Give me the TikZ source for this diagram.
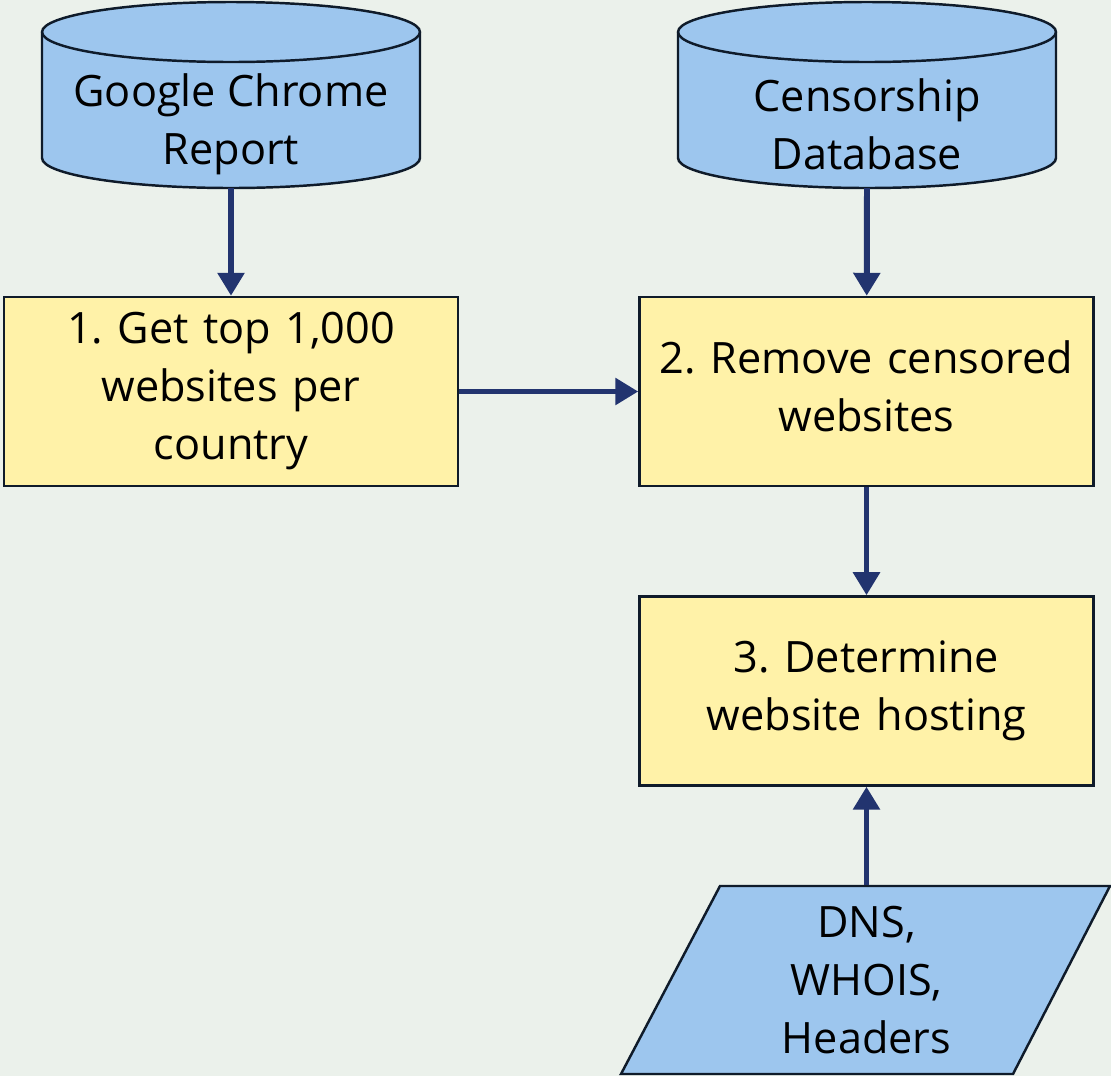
\documentclass[tikz,border=0pt]{standalone}
\usepackage{fontspec}
\setmainfont{Open Sans}
\usetikzlibrary{arrows.meta,positioning}
\definecolor{bgcol}{HTML}{EBF1EB}
\definecolor{dbblue}{HTML}{9DC6EE}
\definecolor{stepyellow}{HTML}{FFF2A8}
\definecolor{arrnavy}{HTML}{22346F}
\definecolor{edgecol}{HTML}{0F1B2A}
\frenchspacing
\begin{document}
\begin{tikzpicture}[font=\fontsize{12.3}{16.5}\selectfont,
		stepbox/.style={rectangle,draw=edgecol,fill=stepyellow,line width=0.7pt,
			inner xsep=0.1cm,inner ysep=0.05cm,
			minimum width=4.54cm,minimum height=1.89cm,align=center,text width=4.34cm},
		txt/.style={align=center,inner sep=0pt},
		outline/.style={draw=edgecol,fill=dbblue,line width=0.7pt},
		flow/.style={draw=arrnavy,line width=1.7pt,-{Triangle[length=0.23cm,width=0.26cm]}}]
		% background
		\fill[bgcol] (0,0) rectangle (11.11,-10.76);
		\useasboundingbox (0,0) rectangle (11.11,-10.76);
		% data sources (cylinders)
		\draw[outline] (0.42,-0.32) -- (0.42,-1.58) arc (180:360:1.89 and 0.30) -- (4.20,-0.32) arc (0:180:1.89 and 0.30) -- cycle;
		\draw[draw=edgecol,line width=0.7pt] (0.42,-0.32) arc (180:360:1.89 and 0.30);
		\draw[outline] (6.78,-0.32) -- (6.78,-1.58) arc (180:360:1.89 and 0.30) -- (10.56,-0.32) arc (0:180:1.89 and 0.30) -- cycle;
		\draw[draw=edgecol,line width=0.7pt] (6.78,-0.32) arc (180:360:1.89 and 0.30);
		\node[txt] (chrome) at (2.31,-1.24) {Google Chrome\\Report};
		\node[txt] (censor) at (8.67,-1.24) {Censorship\\Database};
		\coordinate (chromeout) at (2.31,-1.88);
		\coordinate (censorout) at (8.67,-1.88);
		% steps
		\node[stepbox] (top) at (2.31,-3.915) {1. Get top 1,000\\websites per\\country};
		\node[stepbox] (remove) at (8.665,-3.915) {2. Remove censored\\websites\vphantom{p}};
		\node[stepbox,below=1.08cm of remove] (hosting) {3. Determine\\website hosting};
		% input (parallelogram)
		\draw[outline] (6.21,-10.74) -- (7.20,-8.86) -- (11.10,-8.86) -- (10.13,-10.74) -- cycle;
		\node[txt,minimum height=1.88cm] (dns) at (8.665,-9.80) {DNS,\\WHOIS,\\Headers};
		% arrows
		\draw[flow] (chromeout) -- (top);
		\draw[flow] (censorout) -- (remove);
		\draw[flow] (top) -- (remove);
		\draw[flow] (remove) -- (hosting);
		\draw[flow] (dns.north) -- (hosting);
\end{tikzpicture}
\end{document}
